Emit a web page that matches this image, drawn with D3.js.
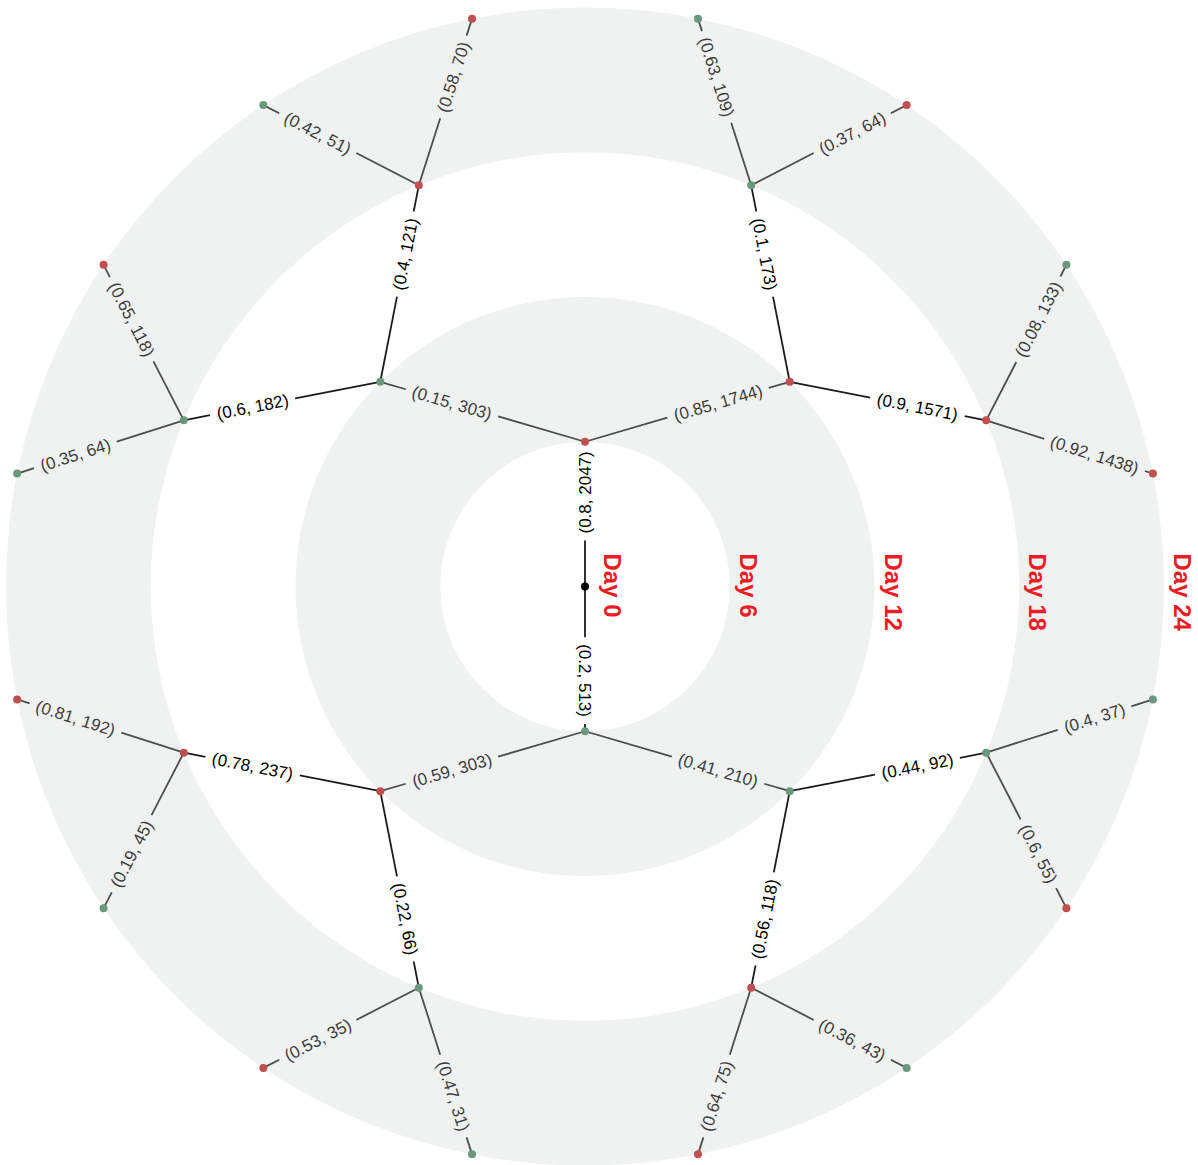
<!DOCTYPE html>
<html>
<head>
<meta charset="utf-8">
<script src="https://cdn.jsdelivr.net/npm/d3@7"></script>
<style>
  html, body { margin: 0; padding: 0; background: #fff; }
  svg { display: block; }
</style>
</head>
<body>
<svg id="chart" width="1198" height="1165"></svg>
<script>
// Branching tree: each node carries (probability, count) of the branch that leads to it.
const nodeIds = ["root",
  "A", "A1", "A1a", "A1a1", "A1a2", "A1b", "A1b1", "A1b2",
  "A2", "A2a", "A2a1", "A2a2", "A2b", "A2b1", "A2b2",
  "B", "B1", "B1a", "B1a1", "B1a2", "B1b", "B1b1", "B1b2",
  "B2", "B2a", "B2a1", "B2a2", "B2b", "B2b1", "B2b2"];
const parentIds = ["",
  "root", "A", "A1", "A1a", "A1a", "A1", "A1b", "A1b",
  "A", "A2", "A2a", "A2a", "A2", "A2b", "A2b",
  "root", "B", "B1", "B1a", "B1a", "B1", "B1b", "B1b",
  "B", "B2", "B2a", "B2a", "B2", "B2b", "B2b"];
const probs = [null,
  0.8, 0.15, 0.6, 0.35, 0.65, 0.4, 0.42, 0.58,
  0.85, 0.1, 0.63, 0.37, 0.9, 0.08, 0.92,
  0.2, 0.41, 0.44, 0.4, 0.6, 0.56, 0.36, 0.64,
  0.59, 0.22, 0.47, 0.53, 0.78, 0.19, 0.81];
const counts = [null,
  2047, 303, 182, 64, 118, 121, 51, 70,
  1744, 173, 109, 64, 1571, 133, 1438,
  513, 210, 92, 37, 55, 118, 43, 75,
  303, 66, 31, 35, 237, 45, 192];
const outcomes = ["start",
  "R", "G", "G", "G", "R", "R", "G", "R",
  "R", "G", "G", "R", "R", "G", "R",
  "G", "G", "G", "G", "R", "R", "G", "R",
  "R", "G", "G", "R", "R", "G", "R"];
const dayLabels = ["Day 0", "Day 6", "Day 12", "Day 18", "Day 24"];

const width = 1198, height = 1165;
const cx = 585, cy = 586.5;
const outerR = 579;

const nodeColor = { start: "#000000", R: "#c0504f", G: "#6a987c" };

const svg = d3.select("#chart");
const g = svg.append("g").attr("transform", `translate(${cx},${cy})`);

const rows = nodeIds.map((id, i) => ({
  id, parent: parentIds[i] || null, prob: probs[i], count: counts[i], outcome: outcomes[i]
}));
const root = d3.stratify().id(d => d.id).parentId(d => d.parent)(rows);

const maxDepth = dayLabels.length - 1;
const rScale = d3.scaleLinear().domain([0, maxDepth]).range([0, outerR]);

d3.cluster().size([2 * Math.PI, 1]).separation(() => 1)(root);

// angle measured clockwise from 12 o'clock; first subtree sits on top
const angleOf = d => d.x - Math.PI / 2;
root.each(d => {
  const a = angleOf(d), r = rScale(d.depth);
  d.px = d.depth === 0 ? 0 : r * Math.sin(a);
  d.py = d.depth === 0 ? 0 : -r * Math.cos(a);
});

// alternating background bands, one per stage
const bandArc = d3.arc().startAngle(0).endAngle(2 * Math.PI);
const bands = d3.range(1, maxDepth + 1, 2).map(i => ({ inner: rScale(i), outer: rScale(i + 1) }));
g.append("g").selectAll("path").data(bands).join("path")
  .attr("d", d => bandArc({ innerRadius: d.inner, outerRadius: d.outer }))
  .attr("fill", "#f0f1f1");

// stage labels along the horizontal radius
g.append("g").selectAll("text").data(dayLabels).join("text")
  .attr("transform", (d, i) => `translate(${rScale(i) + (i === 0 ? 19 : 10)},${-33}) rotate(90)`)
  .attr("text-anchor", "start")
  .attr("font-family", "'Liberation Sans', Arial, Helvetica, sans-serif")
  .attr("font-weight", "bold")
  .attr("font-size", 24)
  .attr("fill", "#ec1c24")
  .text(d => d);

const links = root.links();
const labelFont = "'Liberation Sans', Arial, Helvetica, sans-serif";
const T = 0.65, pad = 7;

const linkLayer = g.append("g");
const labelLayer = g.append("g");

links.forEach(l => {
  const s = l.source, t = l.target;
  const dx = t.px - s.px, dy = t.py - s.py;
  const len = Math.hypot(dx, dy);
  const ux = dx / len, uy = dy / len;
  const mx = s.px + dx * T, my = s.py + dy * T;
  let ang = Math.atan2(dy, dx) * 180 / Math.PI;
  if (ang > 90.001) ang -= 180;
  if (ang < -90.001) ang += 180;
  const odd = t.depth % 2 === 1;
  const lineColor = odd ? "#1c1c1c" : "#4d4d4d";
  const textColor = odd ? "#000000" : "#3d3d3d";

  const txt = labelLayer.append("text")
    .attr("transform", `translate(${mx},${my}) rotate(${ang})`)
    .attr("text-anchor", "middle")
    .attr("dy", "0.35em")
    .attr("font-family", labelFont)
    .attr("font-size", 17)
    .attr("fill", textColor)
    .text(`(${t.data.prob}, ${t.data.count})`);
  const half = txt.node().getComputedTextLength() / 2 + pad;

  const segs = [
    [s.px, s.py, mx - ux * half, my - uy * half],
    [mx + ux * half, my + uy * half, t.px, t.py]
  ];
  segs.forEach(([x1, y1, x2, y2]) => {
    linkLayer.append("line")
      .attr("x1", x1).attr("y1", y1).attr("x2", x2).attr("y2", y2)
      .attr("stroke", lineColor)
      .attr("stroke-width", 1.8);
  });
});

// nodes on top of the links
g.append("g").selectAll("circle").data(root.descendants()).join("circle")
  .attr("cx", d => d.px).attr("cy", d => d.py)
  .attr("r", 4)
  .attr("fill", d => nodeColor[d.data.outcome]);

labelLayer.raise();
</script>
</body>
</html>
